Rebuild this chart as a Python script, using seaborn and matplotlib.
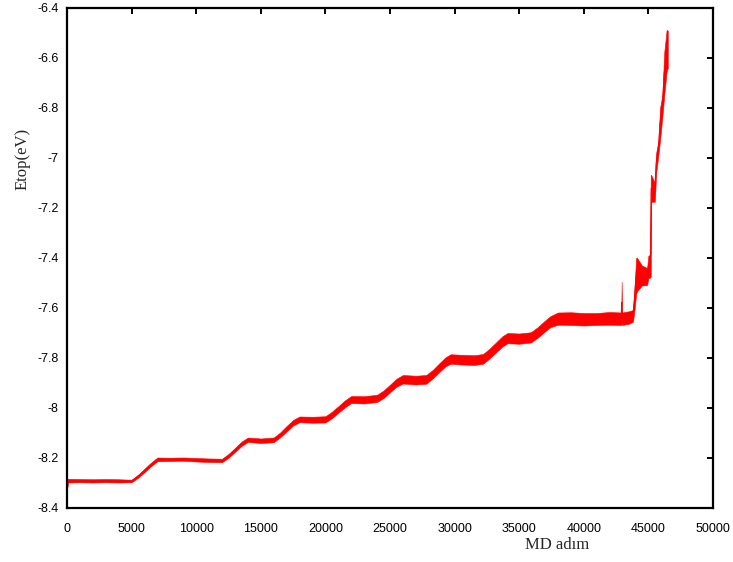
import matplotlib
matplotlib.use("Agg")
import matplotlib.pyplot as plt
import numpy as np
import pandas as pd
import seaborn as sns

# MD step and the lower / upper edge of the fluctuating total energy at that step
steps = [0, 100, 1000, 2000, 3000, 4000, 5000, 5500, 6000, 6500, 7000, 8000,
         9000, 10000, 11000, 12000, 12500, 13000, 13500, 14000, 15000, 16000,
         16500, 17000, 17500, 18000, 19000, 20000, 20500, 21000, 21500, 22000,
         23000, 24000, 24500, 25000, 25500, 26000, 27000, 27800, 28300, 28800,
         29300, 29700, 30500, 31500, 32200, 32700, 33200, 33700, 34100, 35000,
         35900, 36400, 36900, 37400, 38000, 39000, 40000, 41000, 42000, 42900,
         42930, 42960, 43500, 43800, 43900, 44050, 44100, 44500, 44900, 45000,
         45150, 45180, 45220, 45500, 45600, 45780, 45900, 46080, 46230, 46410,
         46500]

etop_low = [-8.325, -8.298, -8.297, -8.298, -8.297, -8.298, -8.297, -8.279,
            -8.257, -8.233, -8.213, -8.212, -8.211, -8.214, -8.216, -8.217,
            -8.199, -8.176, -8.152, -8.136, -8.140, -8.137, -8.117, -8.094,
            -8.070, -8.057, -8.059, -8.058, -8.041, -8.019, -7.998, -7.980,
            -7.982, -7.976, -7.960, -7.937, -7.915, -7.902, -7.906, -7.903,
            -7.882, -7.857, -7.833, -7.823, -7.826, -7.828, -7.823, -7.802,
            -7.778, -7.754, -7.741, -7.743, -7.738, -7.720, -7.698, -7.677,
            -7.667, -7.668, -7.670, -7.668, -7.667, -7.668, -7.660, -7.668,
            -7.663, -7.655, -7.620, -7.545, -7.535, -7.510, -7.508, -7.480,
            -7.478, -7.475, -7.175, -7.175, -7.060, -6.985, -6.930, -6.835,
            -6.748, -6.655, -6.640]

etop_high = [-8.283, -8.283, -8.284, -8.285, -8.284, -8.285, -8.287, -8.267,
             -8.243, -8.219, -8.198, -8.199, -8.198, -8.200, -8.202, -8.203,
             -8.184, -8.160, -8.135, -8.118, -8.122, -8.118, -8.098, -8.072,
             -8.048, -8.034, -8.035, -8.033, -8.015, -7.993, -7.970, -7.952,
             -7.953, -7.947, -7.930, -7.907, -7.883, -7.868, -7.871, -7.868,
             -7.848, -7.822, -7.797, -7.785, -7.787, -7.789, -7.784, -7.763,
             -7.738, -7.713, -7.700, -7.702, -7.697, -7.678, -7.655, -7.633,
             -7.618, -7.617, -7.620, -7.620, -7.616, -7.618, -7.495, -7.618,
             -7.613, -7.608, -7.540, -7.400, -7.398, -7.430, -7.440, -7.390,
             -7.388, -7.068, -7.068, -7.100, -6.980, -6.930, -6.800, -6.748,
             -6.575, -6.488, -6.490]

x_ticks = [0, 5000, 10000, 15000, 20000, 25000, 30000, 35000, 40000, 45000, 50000]
y_ticks = [-8.4, -8.2, -8, -7.8, -7.6, -7.4, -7.2, -7, -6.8, -6.6, -6.4]
y_tick_labels = ["-8.4", "-8.2", "-8", "-7.8", "-7.6", "-7.4", "-7.2", "-7",
                 "-6.8", "-6.6", "-6.4"]

# long table: two rows per step, the band spans min..max of them
df = pd.DataFrame({
    "step": steps + steps,
    "etop": etop_low + etop_high,
})

sns.set_style("white")
plt.rcParams["font.family"] = ["Liberation Sans", "DejaVu Sans"]

fig = plt.figure(figsize=(7.33, 5.62), dpi=100)
ax = fig.add_axes([67 / 733, 54 / 562, 646 / 733, 500 / 562])

sns.lineplot(data=df, x="step", y="etop", ax=ax, color="#ff0000",
             estimator="mean", errorbar=("pi", 100), linewidth=0.8,
             err_kws={"alpha": 1.0, "linewidth": 0.4, "edgecolor": "#ff0000"})

ax.set_xlim(0, 50000)
ax.set_ylim(-8.4, -6.4)
ax.set_xticks(x_ticks)
ax.set_xticklabels([str(t) for t in x_ticks])
ax.set_yticks(y_ticks)
ax.set_yticklabels(y_tick_labels)

for s in ax.spines.values():
    s.set_visible(True)
    s.set_color("black")
    s.set_linewidth(1.6)

ax.tick_params(axis="both", direction="in", length=4, width=1.4,
               top=True, right=True, labelsize=9, colors="black")
ax.tick_params(axis="x", pad=11)
ax.tick_params(axis="y", pad=6)

ax.set_xlabel("MD adım", fontsize=12, family=["Liberation Serif", "DejaVu Serif"])
ax.set_ylabel("Etop(eV)", fontsize=12, family=["Liberation Serif", "DejaVu Serif"])
ax.xaxis.set_label_coords(0.758, -0.058)
ax.yaxis.set_label_coords(-0.057, 0.698)
ax.grid(False)

fig.savefig("out.png", dpi=100, facecolor="white")
